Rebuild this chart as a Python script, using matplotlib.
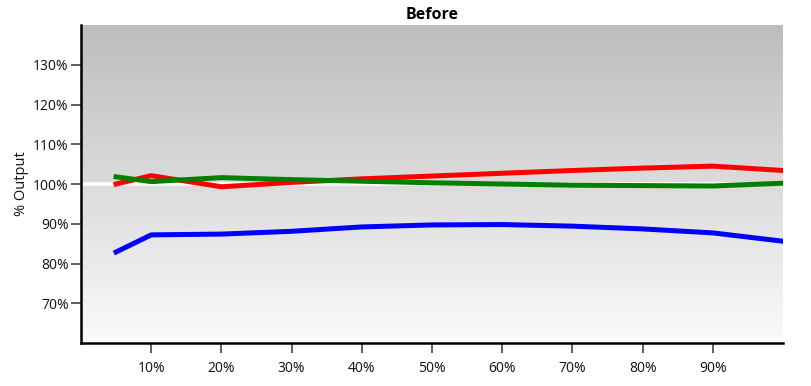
import numpy as np
import matplotlib
matplotlib.use("Agg")
import matplotlib.pyplot as plt
from matplotlib.colors import LinearSegmentedColormap

plt.rcParams['font.family'] = ['Open Sans', 'DejaVu Sans']

x_vals = [5, 10, 20, 30, 40, 50, 60, 70, 80, 90, 100]
red_vals = [100.0, 102.1, 99.3, 100.4, 101.3, 102.0, 102.7, 103.4, 104.0, 104.5, 103.4]
green_vals = [101.8, 100.6, 101.6, 101.1, 100.7, 100.3, 100.0, 99.7, 99.6, 99.5, 100.2]
blue_vals = [82.9, 87.2, 87.4, 88.1, 89.2, 89.7, 89.8, 89.4, 88.7, 87.7, 85.6]
x_ticks = [10, 20, 30, 40, 50, 60, 70, 80, 90]
y_ticks = [70, 80, 90, 100, 110, 120, 130]

fig = plt.figure(figsize=(8.11, 3.86), dpi=100)
ax = fig.add_axes([81/811, 1 - 343/386, (783-81)/811, (343-25)/386])
ax.set_xlim(0, 100)
ax.set_ylim(60, 140)

cmap = LinearSegmentedColormap.from_list('bg', ['#fafafa', '#bdbdbd'])
grad = np.linspace(0, 1, 256).reshape(-1, 1)
ax.imshow(grad, cmap=cmap, aspect='auto', origin='lower',
          extent=[0, 1, 0, 1], transform=ax.transAxes, zorder=0)

ax.axhline(100, color='white', lw=2.6, zorder=1)
ax.plot(x_vals, blue_vals, color='#0000ff', lw=3.6, zorder=3)
ax.plot(x_vals, red_vals, color='#ff0000', lw=3.6, zorder=3)
ax.plot(x_vals, green_vals, color='#008000', lw=3.6, zorder=4)

ax.set_xticks(x_ticks)
ax.set_xticklabels([f"{v}%" for v in x_ticks])
ax.set_yticks(y_ticks)
ax.set_yticklabels([f"{v}%" for v in y_ticks])

for s in ['top', 'right']:
    ax.spines[s].set_visible(False)
for s in ['left', 'bottom']:
    ax.spines[s].set_linewidth(1.8)
    ax.spines[s].set_color('black')

ax.tick_params(axis='both', direction='out', length=7, width=1.2, color='#444444',
               labelsize=10, labelcolor='#111111', pad=2)
ax.tick_params(axis='x', pad=6)

ax.set_ylabel('% Output', fontsize=10.5, color='#111111', labelpad=3)
ax.set_title('Before', fontsize=11.5, fontweight='bold', pad=4)

fig.savefig('out.png', dpi=100)
